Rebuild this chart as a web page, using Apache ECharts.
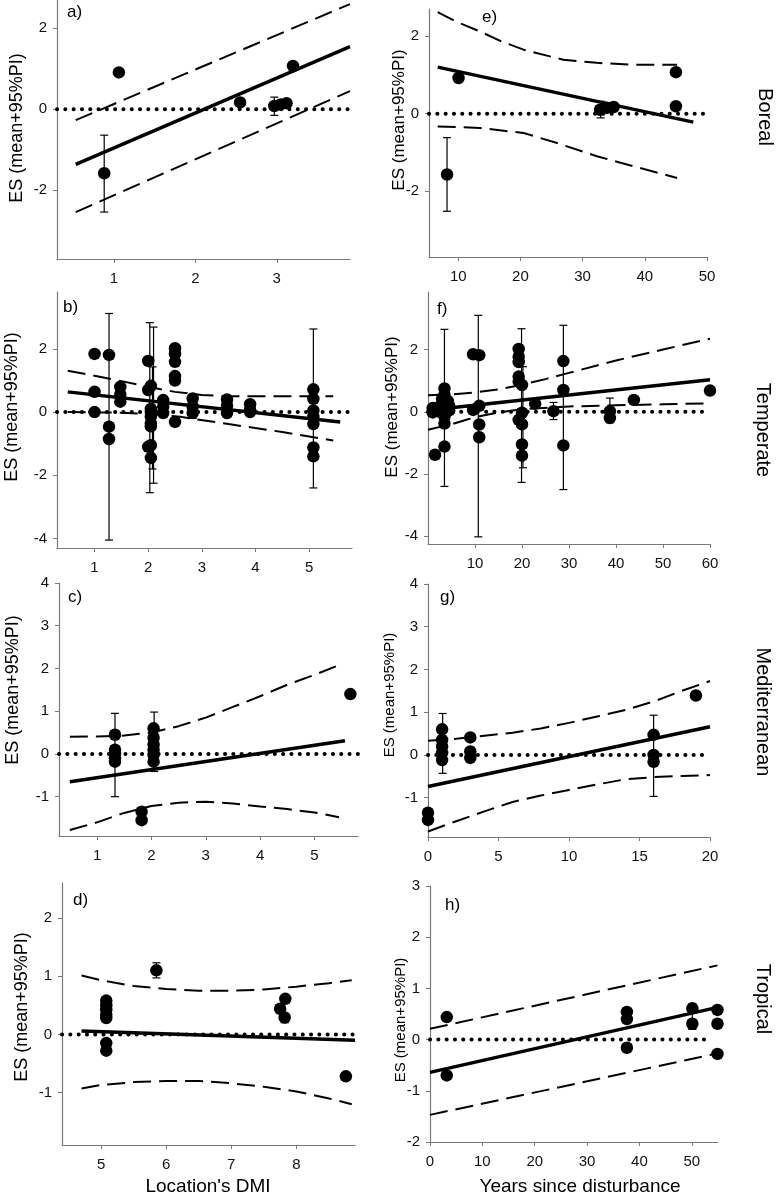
<!DOCTYPE html>
<html><head><meta charset="utf-8">
<script src="https://cdn.jsdelivr.net/npm/echarts@6/dist/echarts.min.js"></script>
<style>html,body{margin:0;padding:0;background:#fff}#c{width:778px;height:1200px}</style>
</head><body><div id="c"></div>
<script>
// ---------- DATA ----------
// Panel a (Boreal, DMI)
const aPts = [[0.88,-1.58],[1.06,0.91],[2.55,0.17],[2.97,0.08],[3.05,0.12],[3.12,0.15],[3.2,1.07]];
const aErr = [[0.88,-2.54,-0.64],[2.97,-0.15,0.3]];
const aFit = [[0.53,-1.36],[3.9,1.55]];
const aUpper = [[0.53,-0.27],[3.9,2.6]];
const aLower = [[0.53,-2.54],[3.9,0.45]];
const aXTicks = [1,2,3];
const aYTicks = [-2,0,2];
// Panel e (Boreal, years)
const ePts = [[8.2,-1.57],[10.05,0.92],[32.8,0.1],[33.9,0.15],[35,0.17],[45,1.07],[45,0.19]];
const eErr = [[8.2,-2.52,-0.62],[32.9,-0.11,0.32]];
const eFit = [[6.7,1.2],[47.8,-0.22]];
const eUpper = [[6.7,2.62],[10,2.35],[13.5,2.12],[17,1.86],[20.5,1.65],[26.9,1.39],[32.3,1.31],[38.2,1.26],[45.2,1.26]];
const eLower = [[6.7,-0.33],[13.5,-0.37],[20.5,-0.5],[25.9,-0.76],[32.3,-1.1],[38.2,-1.36],[45.2,-1.66]];
const eXTicks = [10,20,30,40,50];
const eYTicks = [-2,0,2];
// Panel b (Temperate, DMI)
const bPts = [[1.0,1.84],[1.0,0.64],[1.0,0.0],[1.27,1.81],[1.27,-0.46],[1.27,-0.85],
  [1.48,0.8],[1.48,0.56],[1.48,0.33],[2.0,1.62],[2.0,0.7],[2.0,-1.1],
  [2.05,0.83],[2.05,0.1],[2.05,0.0],[2.05,-0.14],[2.05,-0.36],[2.05,-0.45],[2.05,-1.05],[2.05,-1.45],
  [2.28,0.38],[2.28,0.17],[2.28,-0.03],[2.5,2.02],[2.5,1.84],[2.5,1.59],[2.5,1.14],[2.5,1.0],[2.5,-0.31],
  [2.83,0.43],[2.83,0.17],[2.83,-0.03],[3.47,0.4],[3.47,0.2],[3.47,-0.03],[3.9,0.25],[3.9,0.08],[3.9,0.0],
  [5.08,0.72],[5.08,0.42],[5.08,0.05],[5.08,-0.15],[5.08,-0.38],[5.08,-1.12],[5.08,-1.4]];
const bErr = [[1.27,-4.05,3.12],[2.03,-2.55,2.83],[2.1,-2.25,2.69],[2.08,-1.8,1.43],[2.83,-0.2,0.35],[5.08,-2.4,2.63]];
const bFit = [[0.5,0.64],[5.58,-0.31]];
const bUpper = [[0.5,1.31],[1.0,1.15],[1.5,0.98],[2.0,0.8],[2.5,0.64],[3.0,0.54],[3.5,0.5],[4.5,0.5],[5.45,0.5]];
const bLower = [[0.5,0.0],[1.5,-0.02],[2.0,-0.06],[2.6,-0.15],[3.5,-0.38],[4.5,-0.63],[5.45,-0.9]];
const bXTicks = [1,2,3,4,5];
const bYTicks = [-4,-2,0,2];
// Panel f (Temperate, years)
const fPts = [[1,0.12],[1,-0.02],[1.5,-1.38],[2.3,0.15],[2.5,0.0],[3,0.42],[3.2,0.25],[3.5,0.75],[3.5,0.55],
  [3.5,0.05],[3.5,-0.15],[3.5,-0.38],[3.5,-1.12],[4.2,0.35],[4.5,0.2],[4.5,0.05],
  [9.6,1.85],[10.9,1.82],[9.6,0.06],[10.9,0.19],[10.9,-0.41],[10.9,-0.82],
  [19.3,2.02],[19.3,1.77],[19.3,1.6],[19.3,1.13],[19.3,0.97],[20,0.86],[19.3,-0.26],[20,-0.03],[20,-0.4],[20,-1.05],[20,-1.41],
  [22.8,0.26],[26.7,0.02],[28.8,1.63],[28.8,0.7],[28.8,-1.08],[38.7,0.02],[38.7,-0.2],[43.8,0.38],[60,0.68]];
const fErr = [[3.5,-2.4,2.65],[10.7,-4.02,3.1],[19.9,-2.27,2.67],[20.2,-1.8,1.45],[26.7,-0.25,0.3],[28.8,-2.5,2.78],[38.7,-0.35,0.44]];
const fFit = [[0,0.05],[60,1.03]];
const fUpper = [[0,0.53],[5,0.56],[10,0.62],[15,0.72],[20,0.87],[25,1.05],[30,1.25],[40,1.65],[50,2.0],[60,2.35]];
const fLower = [[0,-0.58],[5,-0.4],[10,-0.17],[15,-0.02],[20,0.08],[30,0.17],[40,0.21],[50,0.24],[60,0.27]];
const fXTicks = [10,20,30,40,50,60];
const fYTicks = [-4,-2,0,2];
// Panel c (Mediterranean, DMI)
const cPts = [[1.33,0.45],[1.33,0.1],[1.33,0.0],[1.33,-0.1],[1.33,-0.18],[1.82,-1.35],[1.82,-1.55],
  [2.04,0.6],[2.04,0.38],[2.04,0.22],[2.04,0.1],[2.04,-0.02],[2.04,-0.18],[5.66,1.4]];
const cErr = [[1.33,-1.0,0.95],[2.05,-0.41,0.98]];
const cFit = [[0.5,-0.65],[5.56,0.31]];
const cUpper = [[0.5,0.4],[1,0.41],[1.5,0.43],[2,0.5],[2.5,0.65],[3,0.85],[3.5,1.1],[4,1.35],[4.5,1.62],[5,1.85],[5.45,2.08]];
const cLower = [[0.5,-1.78],[1,-1.6],[1.5,-1.38],[2,-1.22],[2.5,-1.14],[3,-1.12],[3.5,-1.16],[4,-1.23],[4.5,-1.29],[5,-1.37],[5.45,-1.48]];
const cXTicks = [1,2,3,4,5];
const cYTicks = [-1,0,1,2,3,4];
// Panel g (Mediterranean, years)
const gPts = [[0,-1.35],[0,-1.52],[1,0.6],[1,0.35],[1,0.2],[1,0.05],[1,-0.12],[3,0.41],[3,0.08],[3,-0.07],
  [16,0.47],[16,0.0],[16,-0.16],[19,1.39]];
const gErr = [[1.04,-0.43,0.97],[16,-0.97,0.93]];
const gFit = [[0,-0.74],[20,0.66]];
const gUpper = [[0,0.33],[2,0.38],[4,0.45],[6,0.52],[8,0.62],[10,0.75],[12,0.9],[14,1.05],[16,1.25],[18,1.5],[20,1.73]];
const gLower = [[0,-1.79],[2,-1.55],[4,-1.32],[6,-1.1],[8,-0.95],[10,-0.82],[12,-0.69],[14,-0.57],[16,-0.52],[18,-0.49],[20,-0.47]];
const gXTicks = [0,5,10,15,20];
const gYTicks = [-1,0,1,2,3,4];
// Panel d (Tropical, DMI)
const dPts = [[5.08,0.58],[5.08,0.5],[5.08,0.42],[5.08,0.34],[5.08,0.28],[5.08,-0.15],[5.08,-0.28],
  [5.85,1.1],[7.83,0.61],[7.75,0.44],[7.82,0.29],[8.76,-0.72]];
const dErr = [[5.85,0.97,1.23],[7.82,0.2,0.35]];
const dFit = [[4.7,0.06],[8.9,-0.1]];
const dUpper = [[4.7,1.01],[5,0.93],[5.5,0.83],[6,0.78],[6.5,0.75],[7,0.75],[7.5,0.77],[8,0.82],[8.5,0.88],[8.85,0.93]];
const dLower = [[4.7,-0.93],[5,-0.87],[5.5,-0.82],[6,-0.8],[6.5,-0.8],[7,-0.84],[7.5,-0.9],[8,-0.98],[8.5,-1.1],[8.85,-1.2]];
const dXTicks = [5,6,7,8];
const dYTicks = [-1,0,1,2];
// Panel h (Tropical, years)
const hPts = [[3.2,0.44],[3.2,-0.7],[37.6,0.54],[37.6,0.4],[37.6,-0.16],[50.1,0.61],[50.1,0.31],[54.9,0.58],[54.9,0.31],[54.9,-0.28]];
const hErr = [[50.1,0.2,0.7]];
const hFit = [[0,-0.64],[54.9,0.63]];
const hUpper = [[0,0.21],[54.9,1.45]];
const hLower = [[0,-1.47],[54.9,-0.27]];
const hXTicks = [0,10,20,30,40,50];
const hYTicks = [-2,-1,0,1,2,3];

const panelLetters = ['a)','e)','b)','f)','c)','g)','d)','h)'];
const regionNames = ['Boreal','Temperate','Mediterranean','Tropical'];
const yTitle = 'ES (mean+95%PI)';
const xTitles = ["Location's DMI", 'Years since disturbance'];

// ---------- LAYOUT ----------
const FONT = '"Liberation Sans", Arial, Helvetica, sans-serif';
const panels = [
  {pts:aPts,err:aErr,fit:aFit,up:aUpper,lo:aLower,xt:aXTicks,yt:aYTicks,left:57,top:0,width:293,height:259,xMin:0.3,xMax:3.9,yMin:-3.7,yMax:2.7,lab:[67,4],yt_x:17,yt_y:128,yfs:18},
  {pts:ePts,err:eErr,fit:eFit,up:eUpper,lo:eLower,xt:eXTicks,yt:eYTicks,left:429,top:9,width:278,height:248,xMin:5.3,xMax:50,yMin:-3.7,yMax:2.7,lab:[482,9],yt_x:399,yt_y:120,yfs:17},
  {pts:bPts,err:bErr,fit:bFit,up:bUpper,lo:bLower,xt:bXTicks,yt:bYTicks,left:57,top:292,width:295,height:256,xMin:0.3,xMax:5.8,yMin:-4.3,yMax:3.8,lab:[63,299],yt_x:12,yt_y:407,yfs:18},
  {pts:fPts,err:fErr,fit:fFit,up:fUpper,lo:fLower,xt:fXTicks,yt:fYTicks,left:428,top:292,width:282,height:252,xMin:0,xMax:60,yMin:-4.25,yMax:3.85,lab:[437,301],yt_x:392,yt_y:407,yfs:17},
  {pts:cPts,err:cErr,fit:cFit,up:cUpper,lo:cLower,xt:cXTicks,yt:cYTicks,left:59,top:583,width:299,height:253,xMin:0.3,xMax:5.8,yMin:-1.92,yMax:4,lab:[68,589],yt_x:13,yt_y:690,yfs:18},
  {pts:gPts,err:gErr,fit:gFit,up:gUpper,lo:gLower,xt:gXTicks,yt:gYTicks,left:428,top:584,width:282,height:253,xMin:0,xMax:20,yMin:-1.92,yMax:4,lab:[440,589],yt_x:390,yt_y:695,yfs:15},
  {pts:dPts,err:dErr,fit:dFit,up:dUpper,lo:dLower,xt:dXTicks,yt:dYTicks,left:62,top:883,width:293,height:262,xMin:4.4,xMax:8.9,yMin:-1.9,yMax:2.6,lab:[73,892],yt_x:22,yt_y:1007,yfs:18},
  {pts:hPts,err:hErr,fit:hFit,up:hUpper,lo:hLower,xt:hXTicks,yt:hYTicks,left:430,top:886,width:288,height:256,xMin:0,xMax:55,yMin:-2,yMax:3,lab:[445,897],yt_x:401,yt_y:1020,yfs:15}
];
const zeroEnds = [[0.3,3.9],[5.3,50],[0.3,5.8],[0,59],[0.3,5.8],[0,19.6],[4.4,8.9],[0,53.8]];

const AX = '#7a7a7a';
const grid=[], xAxis=[], yAxis=[], series=[], graphic=[];

function renderErr(params, api){
  const x=api.value(0), lo=api.value(1), hi=api.value(2);
  const p1=api.coord([x,hi]), p2=api.coord([x,lo]);
  const w=4;
  const st={stroke:'#000', lineWidth:1.2};
  return {type:'group', children:[
    {type:'line', shape:{x1:p1[0],y1:p1[1],x2:p2[0],y2:p2[1]}, style:st},
    {type:'line', shape:{x1:p1[0]-w,y1:p1[1],x2:p1[0]+w,y2:p1[1]}, style:st},
    {type:'line', shape:{x1:p2[0]-w,y1:p2[1],x2:p2[0]+w,y2:p2[1]}, style:st}
  ]};
}

panels.forEach((p,i)=>{
  grid.push({left:p.left, top:p.top, width:p.width, height:p.height, containLabel:false, outerBoundsMode:'none'});
  xAxis.push({type:'value', gridIndex:i, min:p.xMin, max:p.xMax, splitLine:{show:false},
    axisLine:{onZero:false, lineStyle:{color:AX, width:1.2}},
    axisTick:{customValues:p.xt, length:4, lineStyle:{color:AX}},
    axisLabel:{customValues:p.xt, margin:12, color:'#111', fontSize:15, fontFamily:FONT}});
  yAxis.push({type:'value', gridIndex:i, min:p.yMin, max:p.yMax, splitLine:{show:false},
    axisLine:{onZero:false, lineStyle:{color:AX, width:1.2}},
    axisTick:{customValues:p.yt, length:4, lineStyle:{color:AX}},
    axisLabel:{customValues:p.yt, margin:10, color:'#111', fontSize:15, fontFamily:FONT}});
  const ze = zeroEnds[i];
  series.push({type:'line', xAxisIndex:i, yAxisIndex:i, data:[[ze[0],0],[ze[1],0]], symbol:'none', silent:true, z:2,
    lineStyle:{color:'#000', width:4, type:[0.1,8.2], cap:'round'}});
  series.push({type:'line', xAxisIndex:i, yAxisIndex:i, data:p.up, symbol:'none', silent:true, z:3,
    lineStyle:{color:'#000', width:2, type:[18,8]}});
  series.push({type:'line', xAxisIndex:i, yAxisIndex:i, data:p.lo, symbol:'none', silent:true, z:3,
    lineStyle:{color:'#000', width:2, type:[18,8]}});
  series.push({type:'line', xAxisIndex:i, yAxisIndex:i, data:p.fit, symbol:'none', silent:true, z:4,
    lineStyle:{color:'#000', width:3.5}});
  series.push({type:'custom', xAxisIndex:i, yAxisIndex:i, data:p.err, renderItem:renderErr, silent:true, z:5});
  series.push({type:'scatter', xAxisIndex:i, yAxisIndex:i, data:p.pts, symbol:'circle', symbolSize:12.5, clip:false,
    itemStyle:{color:'#000', opacity:1}, silent:true, z:6});
  graphic.push({type:'text', x:p.lab[0], y:p.lab[1], style:{text:panelLetters[i], font:'17px '+FONT, fill:'#000', textAlign:'left', textVerticalAlign:'top', verticalAlign:'top'}});
  graphic.push({type:'text', x:p.yt_x, y:p.yt_y, rotation:Math.PI/2, style:{text:yTitle, font:p.yfs+'px '+FONT, fill:'#000', textAlign:'center', textVerticalAlign:'middle', verticalAlign:'middle'}});
});

const regionPos = [[765,117],[763,430],[763,712],[763,999]];
regionNames.forEach((n,k)=>{
  graphic.push({type:'text', x:regionPos[k][0], y:regionPos[k][1], rotation:-Math.PI/2, style:{text:n, font:'20px '+FONT, fill:'#000', textAlign:'center', textVerticalAlign:'middle', verticalAlign:'middle'}});
});
graphic.push({type:'text', x:208, y:1187, style:{text:xTitles[0], font:'19px '+FONT, fill:'#000', textAlign:'center', textVerticalAlign:'middle', verticalAlign:'middle'}});
graphic.push({type:'text', x:580, y:1187, style:{text:xTitles[1], font:'19px '+FONT, fill:'#000', textAlign:'center', textVerticalAlign:'middle', verticalAlign:'middle'}});

const chart = echarts.init(document.getElementById('c'), null, {renderer:'canvas'});
chart.setOption({animation:false, backgroundColor:'#fff', grid, xAxis, yAxis, series, graphic});
</script></body></html>
